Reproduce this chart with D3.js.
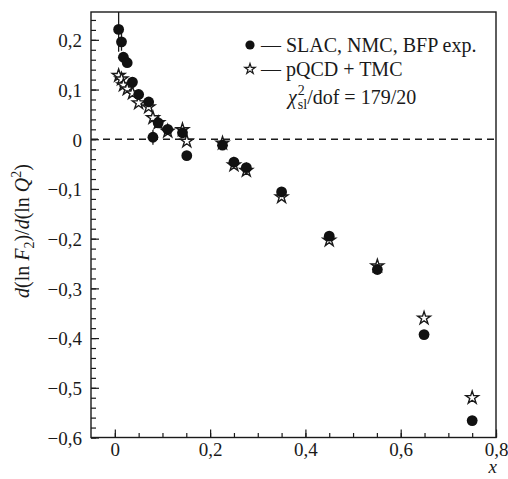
<!DOCTYPE html>
<html>
<head>
<meta charset="utf-8">
<script src="https://cdn.jsdelivr.net/npm/d3@7"></script>
<style>
  body { margin: 0; background: #fff; }
</style>
</head>
<body>
<svg width="508" height="479" font-family="'Liberation Serif', 'Times New Roman', Times, serif"></svg>
<script>
// x values shared by data and calculation
var xVals = [0.008, 0.014, 0.018, 0.026, 0.037, 0.05, 0.071, 0.08, 0.091, 0.111,
  0.142, 0.151, 0.226, 0.25, 0.276, 0.35, 0.45, 0.551, 0.649, 0.75];
// SLAC, NMC, BFP experiment
var expVals = [0.221, 0.196, 0.165, 0.154, 0.115, 0.090, 0.075, 0.004, 0.033, 0.020,
  0.013, -0.033, -0.012, -0.046, -0.057, -0.106, -0.195, -0.262, -0.393, -0.566];
var expErr = [0.045, 0.018, 0.008, 0, 0, 0, 0, 0.015, 0, 0,
  0, 0, 0, 0, 0, 0, 0, 0, 0, 0];
// pQCD + TMC
var qcdVals = [0.128, 0.121, 0.109, 0.101, 0.093, 0.073, 0.065, 0.043, 0.033, 0.016,
  0.019, -0.004, -0.008, -0.052, -0.063, -0.116, -0.203, -0.255, -0.360, -0.520];

var xMajor = [0, 0.2, 0.4, 0.6, 0.8];
var yMajor = [-0.6, -0.5, -0.4, -0.3, -0.2, -0.1, 0, 0.1, 0.2];

var serif = "'Liberation Serif', 'Times New Roman', Times, serif";
var ink = '#1a1a1a';

var svg = d3.select('svg');
var pLeft = 91, pRight = 496, pTop = 12, pBottom = 437.5;

var x = d3.scaleLinear().domain([-0.05, 0.8]).range([pLeft, pRight]);
var y = d3.scaleLinear().domain([-0.6, 0.256]).range([pBottom, pTop]);

var fmt = function (d) {
  if (Math.abs(d) < 1e-9) return '0';
  return d3.format('.1f')(d).replace('.', ',');
};

// minor ticks
var xMinor = d3.range(0, 0.801, 0.05);
var yMinor = d3.range(-0.6, 0.2401, 0.02);

svg.append('g')
  .attr('transform', 'translate(0,' + pBottom + ')')
  .call(d3.axisBottom(x).tickValues(xMinor).tickSize(-4.5).tickFormat(''))
  .call(g => g.select('.domain').remove());
svg.append('g')
  .attr('transform', 'translate(' + pLeft + ',0)')
  .call(d3.axisLeft(y).tickValues(yMinor).tickSize(-5).tickFormat(''))
  .call(g => g.select('.domain').remove());

var xAxis = svg.append('g')
  .attr('transform', 'translate(0,' + pBottom + ')')
  .call(d3.axisBottom(x).tickValues(xMajor).tickSize(-8).tickPadding(5).tickFormat(fmt))
  .attr('font-family', serif).attr('font-size', 19);
xAxis.select('.domain').remove();
xAxis.selectAll('text').attr('fill', ink);

var yAxis = svg.append('g')
  .attr('transform', 'translate(' + pLeft + ',0)')
  .call(d3.axisLeft(y).tickValues(yMajor).tickSize(-8).tickPadding(9).tickFormat(fmt))
  .attr('font-family', serif).attr('font-size', 19);
yAxis.select('.domain').remove();
yAxis.selectAll('text').attr('fill', ink).attr('dy', '0.36em');

svg.selectAll('.tick line').attr('stroke', ink).attr('stroke-width', 1.2);

// frame
svg.append('rect')
  .attr('x', pLeft).attr('y', pTop)
  .attr('width', pRight - pLeft).attr('height', pBottom - pTop)
  .attr('fill', 'none').attr('stroke', ink).attr('stroke-width', 1.4);

// zero line
svg.append('line')
  .attr('x1', pLeft).attr('x2', pRight)
  .attr('y1', y(0)).attr('y2', y(0))
  .attr('stroke', ink).attr('stroke-width', 1.3)
  .attr('stroke-dasharray', '7,5');

svg.append('clipPath').attr('id', 'clip')
  .append('rect').attr('x', pLeft).attr('y', pTop)
  .attr('width', pRight - pLeft).attr('height', pBottom - pTop);

var plot = svg.append('g').attr('clip-path', 'url(#clip)');

var star = d3.symbol().type(d3.symbolStar).size(50);
var starSmall = d3.symbol().type(d3.symbolStar).size(34);

plot.selectAll('path.qcd')
  .data(d3.range(xVals.length))
  .enter().append('path')
  .attr('class', 'qcd')
  .attr('d', star)
  .attr('transform', i => 'translate(' + x(xVals[i]) + ',' + y(qcdVals[i]) + ')')
  .attr('fill', '#fff').attr('stroke', ink).attr('stroke-width', 1.4);

plot.selectAll('line.err')
  .data(d3.range(xVals.length).filter(i => expErr[i] > 0))
  .enter().append('line')
  .attr('class', 'err')
  .attr('x1', i => x(xVals[i])).attr('x2', i => x(xVals[i]))
  .attr('y1', i => y(expVals[i] + expErr[i]))
  .attr('y2', i => y(expVals[i] - expErr[i]))
  .attr('stroke', ink).attr('stroke-width', 1.3);

plot.selectAll('circle.exp')
  .data(d3.range(xVals.length))
  .enter().append('circle')
  .attr('class', 'exp')
  .attr('cx', i => x(xVals[i]))
  .attr('cy', i => y(expVals[i]))
  .attr('r', 5.4)
  .attr('fill', '#111');

// legend
var lg = svg.append('g').attr('font-family', serif).attr('fill', ink);
lg.append('circle').attr('cx', 250).attr('cy', 45).attr('r', 4.6).attr('fill', '#111');
lg.append('text').attr('x', 261).attr('y', 52).attr('font-size', 20)
  .text('— SLAC, NMC, BFP exp.');
lg.append('path').attr('d', starSmall)
  .attr('transform', 'translate(250,69)')
  .attr('fill', '#fff').attr('stroke', ink).attr('stroke-width', 1.2);
lg.append('text').attr('x', 261).attr('y', 76).attr('font-size', 20)
  .text('— pQCD + TMC');

var chi = lg.append('text').attr('x', 288).attr('y', 104).attr('font-size', 20)
  .attr('font-style', 'italic').text('χ');
var cw = chi.node().getComputedTextLength();
lg.append('text').attr('x', 288 + cw + 1).attr('y', 95).attr('font-size', 14).text('2');
var sl = lg.append('text').attr('x', 288 + cw + 1).attr('y', 109).attr('font-size', 14).text('sl');
var sw = sl.node().getComputedTextLength();
lg.append('text').attr('x', 288 + cw + 1 + sw).attr('y', 104).attr('font-size', 20)
  .text('/dof = 179/20');

// axis titles
var yl = svg.append('text')
  .attr('transform', 'translate(29,231) rotate(-90)')
  .attr('text-anchor', 'middle')
  .attr('font-family', serif).attr('fill', ink)
  .attr('font-size', 20);
yl.append('tspan').attr('font-style', 'italic').text('d');
yl.append('tspan').text('(ln ');
yl.append('tspan').attr('font-style', 'italic').text('F');
yl.append('tspan').attr('font-size', 14).attr('dy', 5).text('2');
yl.append('tspan').attr('dy', -5).text(')/');
yl.append('tspan').attr('font-style', 'italic').text('d');
yl.append('tspan').text('(ln ');
yl.append('tspan').attr('font-style', 'italic').text('Q');
yl.append('tspan').attr('font-size', 14).attr('dy', -8).text('2');
yl.append('tspan').attr('dy', 8).text(')');

svg.append('text')
  .attr('x', 497).attr('y', 473)
  .attr('text-anchor', 'end')
  .attr('font-family', serif).attr('fill', ink)
  .attr('font-size', 19)
  .attr('font-style', 'italic')
  .text('x');
</script>
</body>
</html>
